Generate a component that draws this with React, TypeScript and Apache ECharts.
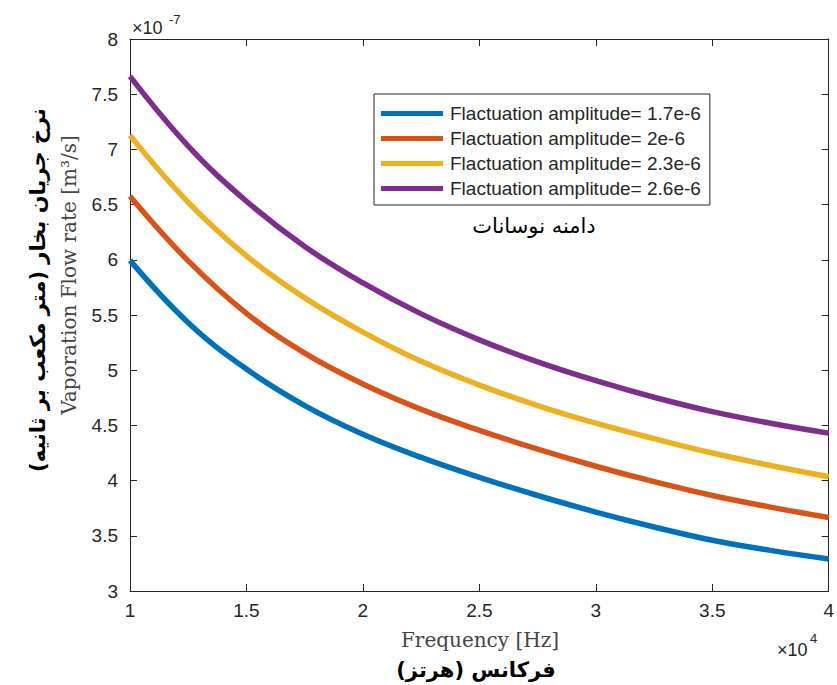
import React, { useEffect, useRef } from "react";
import * as echarts from "echarts";

// Frequency in units of 1e4 Hz
const frequency = [1, 1.25, 1.5, 1.75, 2, 2.25, 2.5, 2.75, 3, 3.25, 3.5, 3.75, 4];

// Vaporation flow rate in units of 1e-7 m^3/s
const flowAmp17 = [5.995, 5.43, 5.01, 4.68, 4.42, 4.21, 4.03, 3.865, 3.715, 3.58, 3.46, 3.368, 3.29];
const flowAmp20 = [6.576, 5.99, 5.515, 5.155, 4.875, 4.645, 4.455, 4.285, 4.13, 3.99, 3.865, 3.76, 3.665];
const flowAmp23 = [7.127, 6.52, 6.035, 5.655, 5.345, 5.08, 4.865, 4.68, 4.52, 4.38, 4.25, 4.137, 4.035];
const flowAmp26 = [7.661, 7.03, 6.53, 6.12, 5.79, 5.51, 5.275, 5.075, 4.905, 4.755, 4.625, 4.52, 4.43];

const seriesNames = [
  "Flactuation amplitude= 1.7e-6",
  "Flactuation amplitude= 2e-6",
  "Flactuation amplitude= 2.3e-6",
  "Flactuation amplitude= 2.6e-6",
];
const seriesColors = ["#0072BD", "#D95319", "#EDB120", "#7E2F8E"];
const seriesValues = [flowAmp17, flowAmp20, flowAmp23, flowAmp26];

const AXIS = "#262626";
const SANS = "'Liberation Sans', Arial, Helvetica, sans-serif";
const SERIF = "'DejaVu Serif', serif";
const FA = "'DejaVu Sans', 'Noto Sans', sans-serif";
const RLM = "\u200F";

export default function App() {
  const ref = useRef<HTMLDivElement>(null);

  useEffect(() => {
    if (!ref.current) return;
    const chart = echarts.init(ref.current, null, { renderer: "svg" });

    const axisCommon = {
      type: "value" as const,
      axisLine: { show: true, onZero: false, lineStyle: { color: AXIS, width: 1 } },
      axisTick: { show: true, inside: true, length: 7, lineStyle: { color: AXIS, width: 1 } },
      splitLine: { show: false },
    };

    const option: any = {
      animation: false,
      backgroundColor: "#ffffff",
      grid: { left: 130, top: 39, width: 701, height: 552, containLabel: false },
      xAxis: [
        {
          ...axisCommon,
          position: "bottom",
          min: 1,
          max: 4,
          interval: 0.5,
          axisLabel: { show: true, margin: 10, color: AXIS, fontSize: 19, fontFamily: SANS },
        },
        {
          ...axisCommon,
          position: "top",
          min: 1,
          max: 4,
          interval: 0.5,
          axisLabel: { show: false },
        },
      ],
      yAxis: [
        {
          ...axisCommon,
          position: "left",
          min: 3,
          max: 8,
          interval: 0.5,
          axisLabel: { show: true, margin: 12, color: AXIS, fontSize: 19, fontFamily: SANS },
        },
        {
          ...axisCommon,
          position: "right",
          min: 3,
          max: 8,
          interval: 0.5,
          axisLabel: { show: false },
        },
      ],
      legend: {
        show: true,
        orient: "vertical",
        left: 374,
        top: 94,
        icon: "rect",
        itemWidth: 62,
        itemHeight: 5,
        itemGap: 6,
        padding: [10, 9, 7, 7],
        backgroundColor: "#ffffff",
        borderColor: AXIS,
        borderWidth: 1,
        borderRadius: 0,
        textStyle: {
          color: AXIS,
          fontSize: 19,
          lineHeight: 19,
          fontFamily: SANS,
          padding: [0, 0, 0, 2],
        },
        data: seriesNames,
      },
      series: seriesNames.map((name, i) => ({
        name,
        type: "line",
        xAxisIndex: 0,
        yAxisIndex: 0,
        data: frequency.map((f, j) => [f, seriesValues[i][j]]),
        smooth: 0.4,
        symbol: "none",
        showSymbol: false,
        clip: false,
        color: seriesColors[i],
        itemStyle: { color: seriesColors[i] },
        lineStyle: { color: seriesColors[i], width: 5.5, cap: "butt" },
      })),
      graphic: [
        // y exponent
        {
          type: "text",
          left: 132,
          top: 19,
          style: { text: "×10", fontSize: 18, fontFamily: SANS, fill: AXIS },
        },
        {
          type: "text",
          left: 169,
          top: 13,
          style: { text: "-7", fontSize: 13, fontFamily: SANS, fill: AXIS },
        },
        // x exponent
        {
          type: "text",
          left: 777,
          top: 641,
          style: { text: "×10", fontSize: 18, fontFamily: SANS, fill: AXIS },
        },
        {
          type: "text",
          left: 810,
          top: 632,
          style: { text: "4", fontSize: 13, fontFamily: SANS, fill: AXIS },
        },
        // x axis titles
        {
          type: "text",
          x: 480,
          y: 640,
          style: {
            text: "Frequency [Hz]",
            fontSize: 20,
            fontFamily: SERIF,
            fill: "#444444",
            align: "center",
            verticalAlign: "middle",
          },
        },
        {
          type: "text",
          x: 476,
          y: 670,
          style: {
            text: "فرکانس (هرتز)" + RLM,
            fontSize: 21,
            fontWeight: "bold",
            fontFamily: FA,
            fill: "#000000",
            align: "center",
            verticalAlign: "middle",
          },
        },
        // y axis titles
        {
          type: "text",
          x: 69,
          y: 275,
          rotation: Math.PI / 2,
          style: {
            text: "Vaporation Flow rate [m³/s]",
            fontSize: 20,
            fontFamily: SERIF,
            fill: "#444444",
            align: "center",
            verticalAlign: "middle",
          },
        },
        {
          type: "text",
          x: 38,
          y: 290,
          rotation: Math.PI / 2,
          style: {
            text: "نرخ جریان بخار (متر مکعب بر ثانیه)" + RLM,
            fontSize: 21,
            fontWeight: "bold",
            fontFamily: FA,
            fill: "#000000",
            align: "center",
            verticalAlign: "middle",
          },
        },
        // legend subtitle
        {
          type: "text",
          x: 534,
          y: 226,
          style: {
            text: "دامنه نوسانات",
            fontSize: 21,
            fontFamily: FA,
            fill: "#000000",
            align: "center",
            verticalAlign: "middle",
          },
        },
      ],
    };

    chart.setOption(option);
    return () => {
      chart.dispose();
    };
  }, []);

  return (
    <div
      ref={ref}
      style={{ position: "absolute", left: 0, top: 0, width: 837, height: 685, background: "#fff" }}
    />
  );
}
